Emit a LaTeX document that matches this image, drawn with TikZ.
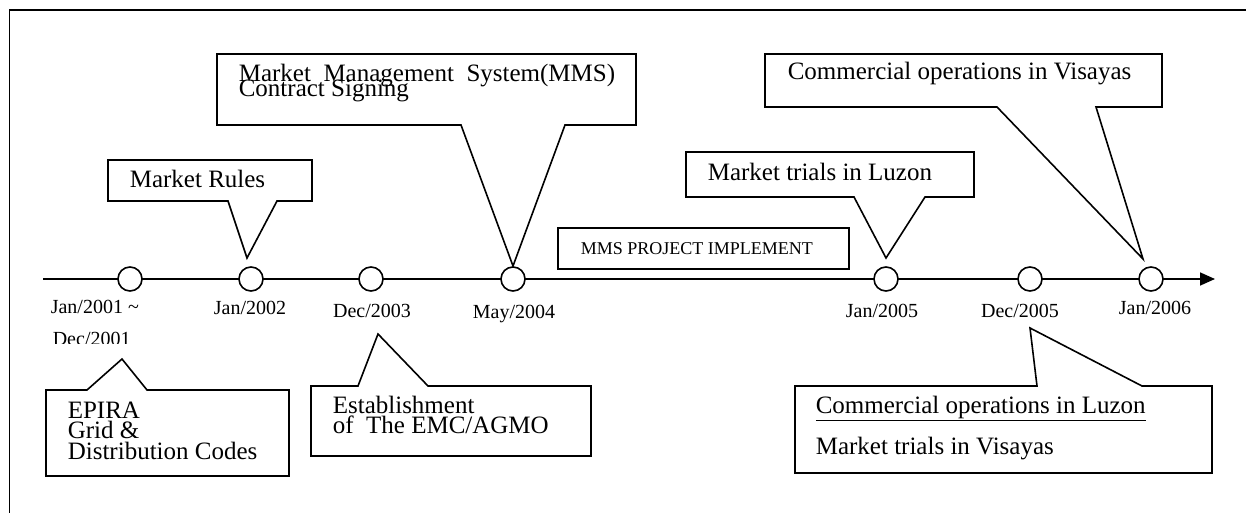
\documentclass[tikz,border=0pt]{standalone}
\usepackage{fontspec}
\setmainfont{Liberation Serif}
\usetikzlibrary{arrows.meta}
\lineskiplimit=-100pt
\lineskip=0pt
\begin{document}
\begin{tikzpicture}[x=1pt,y=-1pt,
  line width=1.6pt,
  bubble/.style={draw=black,line width=1.6pt,fill=white,line join=miter},
  txt/.style={anchor=base west,inner sep=0pt,font=\fontsize{25}{25}\selectfont},
  multi/.style={anchor=base west,inner sep=0pt,align=left},
  smalltxt/.style={anchor=base west,inner sep=0pt,font=\fontsize{18}{18}\selectfont},
  dt/.style={anchor=base,inner sep=0pt,font=\fontsize{20}{20}\selectfont},
  dtl/.style={anchor=base west,inner sep=0pt,font=\fontsize{20}{20}\selectfont},
  ev/.style={circle,draw,fill=white,line width=1.6pt,minimum size=24pt,inner sep=0pt}]
\useasboundingbox (0,0) rectangle (1246,513);
\clip (0,0) rectangle (1246,513);
% frame
\draw (9.5,10) rectangle (1270,540);
% timeline
\coordinate (tlstart) at (43,279);
\coordinate (tlend) at (1215,279);
\draw[-{Triangle[length=15pt,width=13pt]}] (tlstart) -- (tlend);
% callouts above
\draw[bubble] (108,160) -- (312,160) -- (312,201) -- (277,201) -- (247,258) -- (228,201) -- (108,201) -- cycle;
\node[txt] (rules) at (129,187) {Market Rules};
\draw[bubble] (217,54) -- (636,54) -- (636,125) -- (565,125) -- (513,266) -- (461,125) -- (217,125) -- cycle;
\node[multi,font=\fontsize{25}{15.5}\selectfont] (mms) at (238,97) {Market\ \ Management\ \ System(MMS)\\Contract Signing};
\draw[bubble] (765,54) -- (1162,54) -- (1162,107) -- (1096,107) -- (1143,259) -- (997,107) -- (765,107) -- cycle;
\node[txt] (visayas) at (787,80) {Commercial operations in Visayas};
\draw[bubble] (686,152) -- (974,152) -- (974,197) -- (925,197) -- (886,258) -- (854,197) -- (686,197) -- cycle;
\node[txt] (luzontr) at (707,180) {Market trials in Luzon};
\draw[bubble] (558,228) rectangle (849,269);
\node[smalltxt] (proj) at (580,254) {MMS PROJECT IMPLEMENT};
% callouts below
\draw[bubble] (46,390) -- (87,390) -- (122,359) -- (147,390) -- (289,390) -- (289,476) -- (46,476) -- cycle;
\node[multi,font=\fontsize{25}{20.5}\selectfont] (epira) at (67,459) {EPIRA\\Grid \&\\Distribution Codes};
\draw[bubble] (311,386) -- (358,386) -- (378,334) -- (428,386) -- (591,386) -- (591,456) -- (311,456) -- cycle;
\node[multi,font=\fontsize{25}{20}\selectfont] (est) at (332,433) {Establishment\\of\ \ The EMC/AGMO};
\draw[bubble] (795,386) -- (1037,386) -- (1030,328) -- (1142,386) -- (1212,386) -- (1212,473) -- (795,473) -- cycle;
\node[txt] (coml) at (815,413) {\underline{Commercial operations in Luzon}};
\node[txt] (mtv) at (815,454) {Market trials in Visayas};
% event circles
\node[ev] (e1) at (130,279) {};
\node[ev] (e2) at (251,279) {};
\node[ev] (e3) at (371,279) {};
\node[ev] (e4) at (513,279) {};
\node[ev] (e5) at (886,279) {};
\node[ev] (e6) at (1030,279) {};
\node[ev] (e7) at (1151,279) {};
% dates
\node[dtl] (d1) at (50,313) {Jan/2001 \textasciitilde};
\begin{scope}
\clip (40,322) rectangle (170,343.5);
\node[dtl] (d1b) at (52,345) {Dec/2001};
\end{scope}
\node[dt] (d2) at (250,314) {Jan/2002};
\node[dt] (d3) at (372,317) {Dec/2003};
\node[dt] (d4) at (514,318) {May/2004};
\node[dt] (d5) at (882,317) {Jan/2005};
\node[dt] (d6) at (1020,317) {Dec/2005};
\node[dt] (d7) at (1155,314) {Jan/2006};
\end{tikzpicture}
\end{document}
